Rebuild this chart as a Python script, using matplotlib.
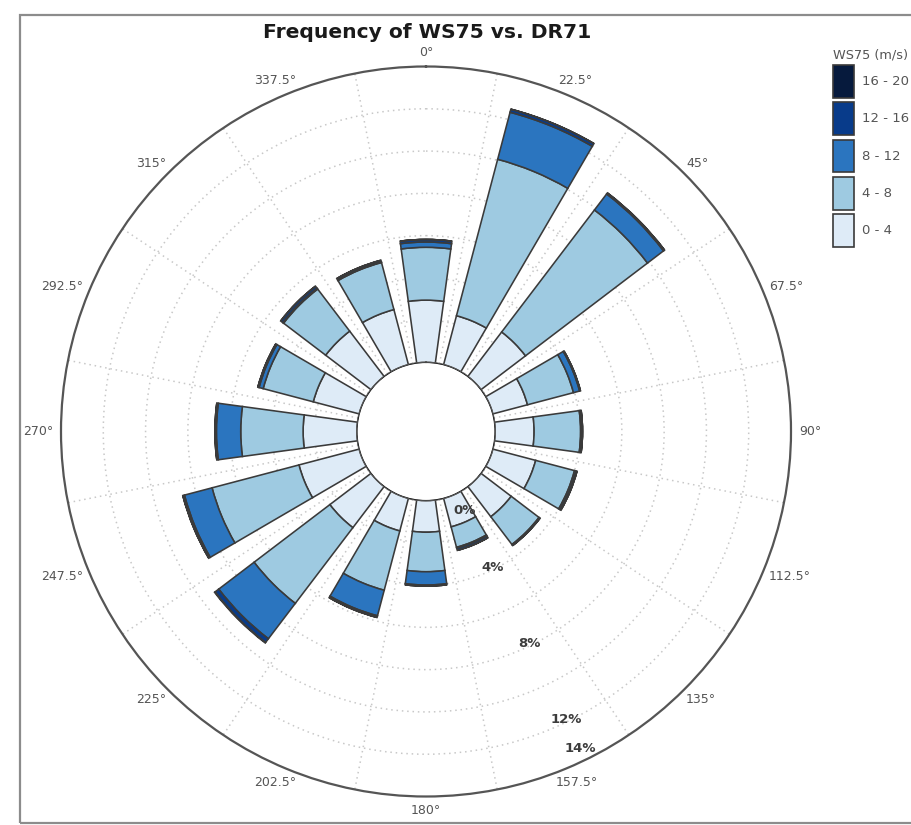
import numpy as np
import matplotlib
matplotlib.use("Agg")
import matplotlib.pyplot as plt
from matplotlib.patches import Patch, Rectangle

plt.rcParams['font.family'] = ['DejaVu Sans']

# Direction sectors (degrees, clockwise from north)
directions = [0, 22.5, 45, 67.5, 90, 112.5, 135, 157.5,
              180, 202.5, 225, 247.5, 270, 292.5, 315, 337.5]
direction_labels = ["0°", "22.5°", "45°", "67.5°", "90°", "112.5°", "135°", "157.5°",
                    "180°", "202.5°", "225°", "247.5°", "270°", "292.5°", "315°", "337.5°"]

# Wind speed classes (m/s)
speed_bins = ["0 - 4", "4 - 8", "8 - 12", "12 - 16", "16 - 20"]

# Frequency (%) per direction for each speed class
freq_0_4 = [2.95, 2.40, 2.65, 1.70, 1.85, 2.10, 1.80, 1.40,
            1.50, 1.60, 2.45, 2.95, 2.55, 2.25, 2.70, 2.70]
freq_4_8 = [2.50, 7.65, 7.25, 2.25, 2.20, 1.90, 1.65, 1.00,
            1.87, 2.90, 4.50, 4.25, 2.95, 2.45, 2.50, 2.30]
freq_8_12 = [0.25, 2.30, 0.95, 0.30, 0.05, 0.08, 0.04, 0.05,
             0.63, 1.25, 2.10, 1.35, 1.15, 0.20, 0.05, 0.03]
freq_12_16 = [0.12, 0.15, 0.06, 0.04, 0.04, 0.04, 0.02, 0.10,
              0.05, 0.08, 0.22, 0.08, 0.07, 0.06, 0.12, 0.08]
freq_16_20 = [0.0, 0.0, 0.0, 0.0, 0.0, 0.0, 0.0, 0.0,
              0.0, 0.0, 0.03, 0.0, 0.0, 0.0, 0.0, 0.0]

# Radial axis labels (%)
radial_ticks = [0, 4, 8, 12, 14]

colors = ["#deebf7", "#9ecae1", "#2b75bf", "#083b8a", "#061a3d"]
edge = "#3a3a3a"

W, H = 912, 825
fig = plt.figure(figsize=(W / 100, H / 100), dpi=100)

# Polar axes placement (pixel geometry converted to figure fraction)
cx, cy, R = 426, 431.5, 365
ax = fig.add_axes([(cx - R) / W, (H - cy - R) / H, 2 * R / W, 2 * R / H],
                  projection="polar")
ax.set_theta_zero_location("N")
ax.set_theta_direction(-1)

rmax = 14.0
hole_px = 69.0
rorigin = -hole_px * rmax / (R - hole_px)
ax.set_ylim(0, rmax)
ax.set_rorigin(rorigin)


def px_to_r(px):
    return rorigin + px * (rmax - rorigin) / R


theta = np.deg2rad(directions)
width = np.deg2rad(15.5)
series = [freq_0_4, freq_4_8, freq_8_12, freq_12_16, freq_16_20]
bottom = np.zeros(len(directions))
for vals, col, lab in zip(series, colors, speed_bins):
    vals = np.asarray(vals)
    ax.bar(theta, vals, width=width, bottom=bottom, color=col,
           edgecolor=edge, linewidth=1.15, zorder=3, label=lab)
    bottom = bottom + vals

# Grid: dotted circles every 2 %, dotted spokes between sectors
ax.set_axisbelow(True)
ax.set_yticks(np.arange(2, 13, 2))
ax.set_yticklabels([])
ax.yaxis.grid(True, color="#c8c8c8", linestyle=(0, (1, 2.5)), linewidth=1.1)

ax.set_xticks(theta)
ax.set_xticklabels([])
ax.set_xticks(theta + np.deg2rad(11.25), minor=True)
ax.xaxis.grid(False, which="major")
ax.xaxis.grid(True, which="minor", color="#c8c8c8", linestyle=(0, (1, 2.5)), linewidth=1.1)
ax.tick_params(axis="x", which="both", length=0)

ax.spines["polar"].set_color("#555555")
ax.spines["polar"].set_linewidth(1.6)
try:
    ax.spines["inner"].set_visible(False)
except KeyError:
    pass

# Hole outline
tt = np.linspace(0, 2 * np.pi, 500)
ax.plot(tt, np.zeros_like(tt), color="#555555", linewidth=1.4, zorder=4)

# Direction labels just outside the outer ring; each label's centre is pushed
# outward by half its width/height along the direction of its angle
renderer = fig.canvas.get_renderer()
r_lab = px_to_r(R + 8)
to_fig = fig.transFigure.inverted()
for th, lab in zip(theta, direction_labels):
    t = fig.text(0, 0, lab, fontsize=9, color="#555555", ha="center", va="center")
    bb = t.get_window_extent(renderer)
    ax_pt = ax.transData.transform((th, r_lab))
    px = ax_pt[0] + 0.5 * bb.width * np.sin(th)
    py = ax_pt[1] + 0.5 * bb.height * np.cos(th)
    t.set_position(to_fig.transform((px, py)))

# Radial percentage labels
lab_theta = np.deg2rad(154)
for v in radial_ticks:
    rr = float(np.clip(v - 0.1, 0.9, 13.4))
    ax.text(lab_theta, rr, f"{v}%", fontsize=9.5, fontweight="bold", color="#3c3c3c",
            ha="center", va="center", zorder=5)

# Title
fig.text(426.7 / W, 1 - 33 / H, "Frequency of WS75 vs. DR71", ha="center", va="center",
         fontsize=14.6, fontweight="bold", color="#1a1a1a")

# Legend (largest class on top)
handles = [Patch(facecolor=c, edgecolor=edge, linewidth=1.2, label=l)
           for c, l in zip(colors[::-1], speed_bins[::-1])]
leg = fig.legend(handles=handles, loc="upper left",
                 bbox_to_anchor=(833 / W, 1 - 65 / H), frameon=False,
                 fontsize=9.5, borderpad=0, borderaxespad=0,
                 handlelength=1.6, handleheight=3.45, labelspacing=0.34,
                 handletextpad=0.6)
for t in leg.get_texts():
    t.set_color("#555555")
fig.text(833 / W, 1 - 55 / H, "WS75 (m/s)", fontsize=9.3, color="#555555",
         ha="left", va="center")

# Outer frame
fig.patches.append(Rectangle((20 / W, 1 - 823 / H), (960 - 20) / W, (823 - 15) / H,
                             transform=fig.transFigure, fill=False,
                             edgecolor="#8c8c8c", linewidth=1.6, clip_on=False))

fig.savefig("out.png", dpi=100)
